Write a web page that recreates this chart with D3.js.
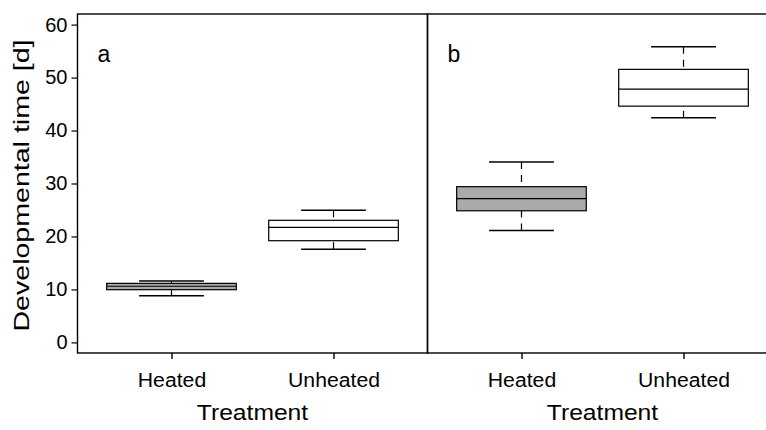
<!DOCTYPE html>
<html>
<head>
<meta charset="utf-8">
<script src="https://cdn.jsdelivr.net/npm/d3@7"></script>
<style>
  html, body { margin: 0; padding: 0; background: #fff; }
  svg { display: block; font-family: "Liberation Sans", Arial, sans-serif; }
</style>
</head>
<body>
<svg id="chart" width="766" height="430"></svg>
<script>
// Treatment groups shown in each panel
const groups = ["Heated", "Unheated"];
const panelNames = ["a", "b"];

// Box statistics: [lower whisker, Q1, median, Q3, upper whisker] in days
const panelA_heated   = [8.8, 9.95, 10.6, 11.15, 11.6];
const panelA_unheated = [17.6, 19.2, 21.7, 23.05, 24.95];
const panelB_heated   = [21.15, 24.85, 27.15, 29.4, 34.05];
const panelB_unheated = [42.4, 44.6, 47.8, 51.55, 55.8];

const yTicks = [0, 10, 20, 30, 40, 50, 60];
const fills = ["#aaaaaa", "#ffffff"];

const panels = [
  { name: panelNames[0], boxes: [panelA_heated, panelA_unheated] },
  { name: panelNames[1], boxes: [panelB_heated, panelB_unheated] }
];

const svg = d3.select("#chart");
const plotTop = 14, plotBottom = 353;
const panelLeft = 77.5, panelW = 350;
const FONT = "'Liberation Sans', Arial, sans-serif";

// widen horizontal labels slightly, like the original device font
function widen(sel, factor) {
  sel.each(function () {
    const w = this.getComputedTextLength();
    d3.select(this).attr("textLength", w * factor).attr("lengthAdjust", "spacingAndGlyphs");
  });
}

const y = d3.scaleLinear().domain([-2, 62]).range([plotBottom, plotTop]);

// y axis on the left panel
const yAxis = d3.axisLeft(y).tickValues(yTicks).tickSize(6).tickPadding(4);
const gy = svg.append("g").attr("transform", `translate(${panelLeft},0)`).call(yAxis);
gy.select(".domain").remove();
gy.selectAll(".tick line").attr("stroke", "#000").attr("stroke-width", 1.2);
gy.selectAll(".tick text").attr("font-size", 20).attr("fill", "#000").style("font-family", FONT);

svg.append("text")
  .attr("transform", `translate(29,${(plotTop + plotBottom) / 2 + 2}) rotate(-90)`)
  .attr("text-anchor", "middle")
  .attr("font-size", 22)
  .attr("textLength", 292)
  .attr("lengthAdjust", "spacingAndGlyphs")
  .text("Developmental time [d]");

panels.forEach((p, i) => {
  const x0 = panelLeft + i * panelW;
  const x = d3.scalePoint().domain(groups).range([x0, x0 + panelW]).padding(0.58);
  const step = x.step();
  const boxW = step * 0.8;
  const capW = boxW / 2;

  const g = svg.append("g");

  // frame of the panel
  g.append("rect")
    .attr("x", x0).attr("y", plotTop)
    .attr("width", panelW).attr("height", plotBottom - plotTop)
    .attr("fill", "none").attr("stroke", "#000").attr("stroke-width", 1.4);

  // x axis ticks and labels
  const xAxis = d3.axisBottom(x).tickSize(6).tickPadding(14);
  const gx = g.append("g").attr("transform", `translate(0,${plotBottom})`).call(xAxis);
  gx.select(".domain").remove();
  gx.selectAll(".tick line").attr("stroke", "#000").attr("stroke-width", 1.4);
  gx.selectAll(".tick text").attr("font-size", 20).attr("fill", "#000").style("font-family", FONT);
  widen(gx.selectAll(".tick text"), 1.06);

  const title = g.append("text")
    .attr("x", x0 + panelW / 2).attr("y", 420)
    .attr("text-anchor", "middle")
    .attr("font-size", 22)
    .text("Treatment");
  widen(title, 1.12);

  g.append("text")
    .attr("x", x0 + 20).attr("y", 62)
    .attr("font-size", 23)
    .text(p.name);

  p.boxes.forEach((s, j) => {
    const cx = x(groups[j]);
    const [lo, q1, med, q3, hi] = s;

    // whiskers, drawn from the whisker end towards the box
    [[hi, q3], [lo, q1]].forEach(([end, edge]) => {
      g.append("line")
        .attr("x1", cx).attr("x2", cx)
        .attr("y1", y(end)).attr("y2", y(edge))
        .attr("stroke", "#000").attr("stroke-width", 1.2)
        .attr("stroke-dasharray", "7,6");
      g.append("line")
        .attr("x1", cx - capW / 2).attr("x2", cx + capW / 2)
        .attr("y1", y(end)).attr("y2", y(end))
        .attr("stroke", "#000").attr("stroke-width", 1.5);
    });

    g.append("rect")
      .attr("x", cx - boxW / 2).attr("width", boxW)
      .attr("y", y(q3)).attr("height", y(q1) - y(q3))
      .attr("fill", fills[j]).attr("stroke", "#000").attr("stroke-width", 1.2);

    g.append("line")
      .attr("x1", cx - boxW / 2).attr("x2", cx + boxW / 2)
      .attr("y1", y(med)).attr("y2", y(med))
      .attr("stroke", "#000").attr("stroke-width", 1.2);
  });
});
</script>
</body>
</html>
